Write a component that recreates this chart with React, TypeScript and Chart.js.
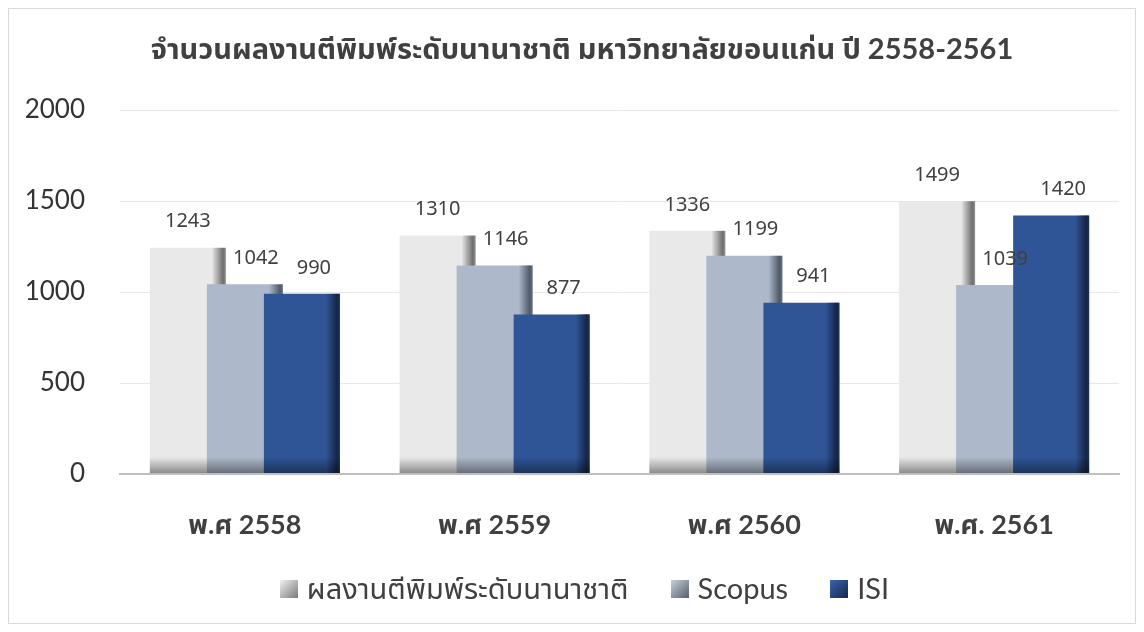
import React, { useEffect, useRef } from "react";
import { Chart, registerables } from "chart.js";

Chart.register(...registerables);

const titleText = "จำนวนผลงานตีพิมพ์ระดับนานาชาติ มหาวิทยาลัยขอนแก่น ปี 2558-2561";
const categories = ["พ.ศ 2558", "พ.ศ 2559", "พ.ศ 2560", "พ.ศ. 2561"];
const seriesNames = ["ผลงานตีพิมพ์ระดับนานาชาติ", "Scopus", "ISI"];
const internationalPubs = [1243, 1310, 1336, 1499];
const scopusPubs = [1042, 1146, 1199, 1039];
const isiPubs = [990, 877, 941, 1420];
const yTickValues = [0, 500, 1000, 1500, 2000];

const baseColors = ["#E9E9E9", "#ADB9CA", "#2F5597"];
const edgeColors = [
  [110, 110, 110],
  [78, 88, 104],
  [22, 37, 70],
];
const markerColors = [
  ["#F2F2F2", "#7A7A7A"],
  ["#C9D1DD", "#56606F"],
  ["#3B65AE", "#14264A"],
];
const labelShift = [0, 11, 12];

const LATIN = "Lato, 'Noto Sans', 'Noto Sans Thai', Loma, Garuda, sans-serif";
const LABEL = "'Noto Sans', 'Open Sans', 'Noto Sans Thai', sans-serif";

function makeMarker(c0: string, c1: string) {
  const c = document.createElement("canvas");
  c.width = 18;
  c.height = 18;
  const x = c.getContext("2d")!;
  const g = x.createLinearGradient(0, 0, 18, 18);
  g.addColorStop(0, c0);
  g.addColorStop(1, c1);
  x.fillStyle = g;
  x.fillRect(0, 0, 18, 18);
  return c;
}

const drawOrderPlugin = {
  id: "drawOrder",
  beforeDatasetsDraw(chart: any) {
    const metas = chart
      .getSortedVisibleDatasetMetas()
      .slice()
      .sort((a: any, b: any) => a.index - b.index);
    metas.forEach((m: any) => chart._drawDataset(m));
    return false;
  },
};

const shadePlugin = {
  id: "shade",
  afterDatasetDraw(chart: any, args: any) {
    const ctx = chart.ctx;
    const [r, g, b] = edgeColors[args.index];
    args.meta.data.forEach((el: any) => {
      const { x, y, base, width } = el.getProps(["x", "y", "base", "width"], true);
      const left = x - width / 2;
      const right = x + width / 2;
      const top = Math.min(y, base);
      const bottom = Math.max(y, base);
      const ew = 14;
      ctx.save();
      const g1 = ctx.createLinearGradient(right - ew, 0, right, 0);
      g1.addColorStop(0, `rgba(${r},${g},${b},0)`);
      g1.addColorStop(0.8, `rgba(${r},${g},${b},1)`);
      g1.addColorStop(1, `rgba(${r},${g},${b},0.7)`);
      ctx.fillStyle = g1;
      ctx.fillRect(right - ew, top, ew, bottom - top);
      const bh = 16;
      const g2 = ctx.createLinearGradient(0, bottom - bh, 0, bottom);
      g2.addColorStop(0, "rgba(0,0,0,0)");
      g2.addColorStop(1, "rgba(0,0,0,0.4)");
      ctx.fillStyle = g2;
      ctx.fillRect(left, bottom - bh, width, bh);
      ctx.restore();
    });
  },
};

const textPlugin = {
  id: "texts",
  afterDraw(chart: any) {
    const ctx = chart.ctx;
    ctx.save();
    // title
    ctx.fillStyle = "#404040";
    ctx.font = `bold 29px ${LATIN}`;
    ctx.textAlign = "center";
    ctx.textBaseline = "middle";
    ctx.fillText(titleText, 573, 41);

    // data labels
    ctx.font = `20px ${LABEL}`;
    chart.data.datasets.forEach((ds: any, i: number) => {
      const meta = chart.getDatasetMeta(i);
      meta.data.forEach((el: any, j: number) => {
        const { x, y } = el.getProps(["x", "y"], true);
        ctx.fillText(String(ds.data[j]), x + labelShift[i], y - 26);
      });
    });

    // legend
    const markers = markerColors.map((m) => makeMarker(m[0], m[1]));
    ctx.font = `29px ${LATIN}`;
    ctx.textAlign = "left";
    const gap = 9;
    const itemGap = 42;
    const widths = seriesNames.map((n) => 18 + gap + ctx.measureText(n).width);
    const total = widths.reduce((a, b) => a + b, 0) + itemGap * (widths.length - 1);
    let cx = 575.5 - total / 2;
    const cy = 580;
    seriesNames.forEach((n, i) => {
      ctx.drawImage(markers[i], cx, cy - 9, 18, 18);
      ctx.fillStyle = "#404040";
      ctx.fillText(n, cx + 18 + gap, cy + 1);
      cx += widths[i] + itemGap;
    });
    ctx.restore();
  },
};

export default function App() {
  const ref = useRef<HTMLCanvasElement>(null);
  useEffect(() => {
    if (!ref.current) return;
    const data = [internationalPubs, scopusPubs, isiPubs];
    const chart = new Chart(ref.current, {
      type: "bar",
      data: {
        labels: categories,
        datasets: seriesNames.map((name, i) => ({
          label: name,
          data: data[i],
          backgroundColor: baseColors[i],
          borderWidth: 0,
          categoryPercentage: 0.685,
          barPercentage: 1.333,
        })),
      },
      options: {
        responsive: false,
        animation: false,
        layout: { padding: { top: 101, right: 16, bottom: 79, left: 0 } },
        plugins: {
          legend: { display: false },
          title: { display: false },
          tooltip: { enabled: false },
        },
        scales: {
          x: {
            grid: { display: false, drawTicks: false },
            border: { display: true, color: "#BFBFBF", width: 2 },
            ticks: {
              padding: 35,
              color: "#404040",
              font: { family: LATIN, size: 27, weight: "bold" },
              maxRotation: 0,
            },
            afterFit: (s: any) => {
              s.height = 70;
            },
          },
          y: {
            min: 0,
            max: 2000,
            afterBuildTicks: (s: any) => {
              s.ticks = yTickValues.map((v) => ({ value: v }));
            },
            grid: {
              drawTicks: false,
              color: (c: any) => (c.tick && c.tick.value === 0 ? "#BFBFBF" : "#E8E8E8"),
              lineWidth: (c: any) => (c.tick && c.tick.value === 0 ? 2 : 1),
            },
            border: { display: false },
            ticks: {
              padding: 35,
              color: "#333333",
              font: { family: LATIN, size: 26 },
              callback: (v: any) => String(v),
            },
            afterFit: (s: any) => {
              s.width = 111;
            },
          },
        },
      },
      plugins: [drawOrderPlugin, shadePlugin, textPlugin],
    });
    return () => chart.destroy();
  }, []);
  return (
    <div
      style={{
        width: 1128,
        height: 616,
        border: "1px solid #D9D9D9",
        boxSizing: "border-box",
        background: "#fff",
      }}
    >
      <canvas ref={ref} width={1126} height={614} style={{ display: "block", width: 1126, height: 614 }} />
    </div>
  );
}
